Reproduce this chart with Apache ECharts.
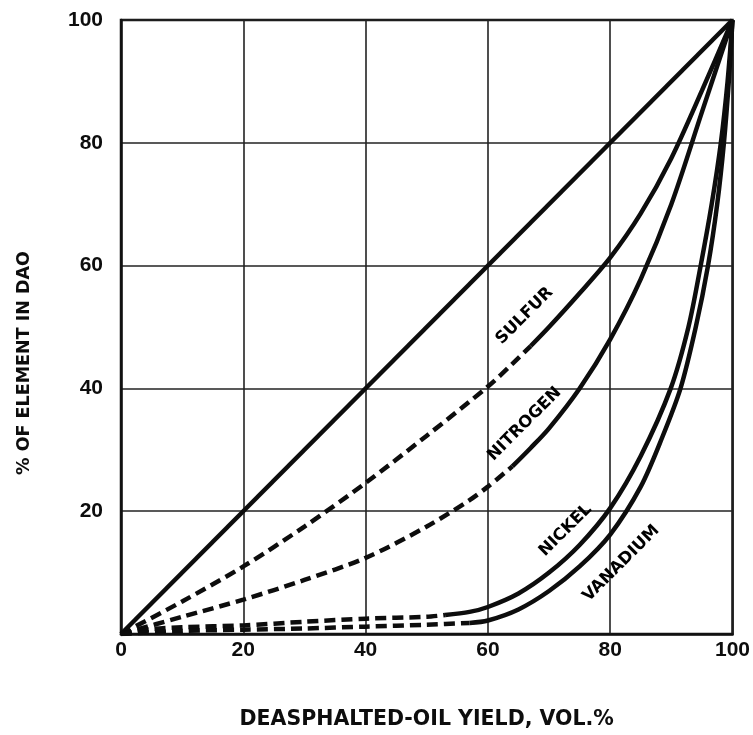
<!DOCTYPE html>
<html>
<head>
<meta charset="utf-8">
<script src="https://cdn.jsdelivr.net/npm/echarts@6/dist/echarts.min.js"></script>
<style>html,body{margin:0;padding:0;background:#fff}#c{width:753px;height:735px}</style>
</head>
<body>
<div id="c"></div>
<script>
// ---- data (x = deasphalted-oil yield vol.%, y = % of element in DAO) ----
var ticks = [0, 20, 40, 60, 80, 100];
var diagonal = [[0, 0], [100, 100]];
var sulfurDashed = [[0, 0], [10, 5.3], [20, 11], [30, 17.5], [40, 24.6], [50, 32.3], [60, 40.3], [64, 44], [67, 46.9]];
var sulfurSolid = [[67, 46.9], [70, 50], [75, 55.5], [80, 61.3], [85, 68.5], [90, 77.5], [95, 88.5], [100, 100]];
var nitrogenDashed = [[0, 0], [10, 2.8], [20, 5.6], [30, 8.8], [40, 12.4], [50, 17.5], [57, 21.8], [60, 24], [64, 27.3]];
var nitrogenSolid = [[64, 27.3], [67, 30.3], [70, 33.5], [75, 40], [80, 48], [85, 57.8], [90, 70], [95, 85], [100, 100]];
var nickelDashed = [[0, 0], [5, 0.8], [10, 1.1], [20, 1.4], [30, 2], [40, 2.5], [50, 2.8], [53, 3.1]];
var nickelSolid = [[53, 3.1], [57, 3.6], [60, 4.4], [65, 6.6], [70, 10], [75, 14.5], [80, 20.5], [85, 29], [89.9, 40], [92.8, 50], [94.8, 60], [96.6, 70], [98.1, 80], [99.2, 90], [100, 100]];
var vanadiumDashed = [[0, 0], [10, 0.5], [20, 0.7], [30, 0.9], [40, 1.2], [50, 1.5], [57, 1.8]];
var vanadiumSolid = [[57, 1.8], [60, 2.2], [65, 4], [70, 7], [75, 11], [80, 16.2], [85, 24], [88.5, 32], [91.5, 40], [94, 50], [96, 60], [97.5, 70], [98.6, 80], [99.4, 90], [100, 100]];
var curveLabels = [
  { name: 'SULFUR', value: [66, 51.8] },
  { name: 'NITROGEN', value: [66, 34.2] },
  { name: 'NICKEL', value: [72.7, 16.9] },
  { name: 'VANADIUM', value: [81.8, 11.5] }
];
var xTitle = 'DEASPHALTED-OIL YIELD, VOL.%';
var yTitle = '% OF ELEMENT IN DAO';

var FONT = '"Liberation Sans", Arial, sans-serif';
var WIDE = '"DejaVu Sans", sans-serif';
var INK = '#0d0d0d';
function line(data, dashed) {
  return {
    type: 'line', data: data, symbol: 'none', smooth: 0.3,
    lineStyle: { color: INK, width: 4.5, type: dashed ? [11, 6] : 'solid', cap: 'butt' },
    silent: true, z: 3
  };
}
var chart = echarts.init(document.getElementById('c'), null, { renderer: 'canvas' });
chart.setOption({
  backgroundColor: '#fff',
  animation: false,
  grid: { left: 121, right: 18, top: 20, bottom: 95, show: true, borderColor: '#111', borderWidth: 2.5, backgroundColor: 'transparent' },
  xAxis: {
    type: 'value', min: 0, max: 100, interval: 20,
    name: xTitle, nameLocation: 'middle', nameGap: 75,
    nameTextStyle: { fontFamily: WIDE, fontWeight: 'bold', fontSize: 20.5, color: INK },
    axisLine: { show: true, lineStyle: { color: '#111', width: 2.5 } },
    axisTick: { show: false },
    axisLabel: { fontFamily: FONT, fontWeight: 'bold', fontSize: 21, color: INK, margin: 6 },
    splitLine: { show: true, lineStyle: { color: '#222', width: 1.6 } }
  },
  yAxis: {
    type: 'value', min: 0, max: 100, interval: 20,
    name: yTitle, nameLocation: 'middle', nameGap: 88, nameRotate: 90,
    nameTextStyle: { fontFamily: WIDE, fontWeight: 'bold', fontSize: 17.5, color: INK, padding: [0, 72, 0, 0] },
    axisLine: { show: true, lineStyle: { color: '#111', width: 2.5 } },
    axisTick: { show: false },
    axisLabel: { fontFamily: FONT, fontWeight: 'bold', fontSize: 21, color: INK, margin: 18,
      formatter: function (v) { return v === 0 ? '' : String(v); } },
    splitLine: { show: true, lineStyle: { color: '#222', width: 1.6 } }
  },
  series: [
    line(diagonal, false),
    line(sulfurDashed, true), line(sulfurSolid, false),
    line(nitrogenDashed, true), line(nitrogenSolid, false),
    line(nickelDashed, true), line(nickelSolid, false),
    line(vanadiumDashed, true), line(vanadiumSolid, false),
    {
      type: 'scatter', data: curveLabels, symbolSize: 0, silent: true, z: 5,
      itemStyle: { opacity: 1 },
      label: {
        show: true, position: 'inside', rotate: 45, formatter: '{b}',
        fontFamily: WIDE, fontWeight: 'bold', fontSize: 16.5, color: '#000', textBorderWidth: 0
      }
    }
  ]
});
</script>
</body>
</html>
